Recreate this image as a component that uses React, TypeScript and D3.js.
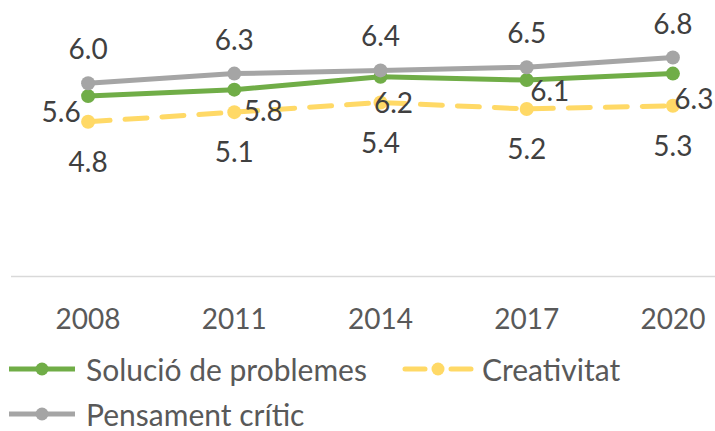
import React from 'react';
import * as d3 from 'd3';

// --- Data ---
const years = ['2008', '2011', '2014', '2017', '2020'];
const solucio = [5.6, 5.8, 6.2, 6.1, 6.3];
const creativitat = [4.8, 5.1, 5.4, 5.2, 5.3];
const pensament = [6.0, 6.3, 6.4, 6.5, 6.8];

// hand-placed label offsets for the green series (as in the original chart)
const solucioLabelOffsets: [number, number][] = [[-27, 15], [29, 20], [13, 25], [23, 10], [21, 24]];

const W = 715;
const H = 431;
const FONT = 'Lato, "Open Sans", sans-serif';
const LABEL_COLOR = '#404040';
const AXIS_COLOR = '#595959';

const series = [
    { name: 'Solució de problemes', values: solucio, color: '#70AD47', dash: null },
    { name: 'Creativitat', values: creativitat, color: '#FFD966', dash: '22,15' },
    { name: 'Pensament crític', values: pensament, color: '#A5A5A5', dash: null },
];

const x = d3.scaleBand<string>().domain(years).range([15, 746]).padding(0);
const cx = (yr: string) => (x(yr) as number) + x.bandwidth() / 2;
const y = d3.scaleLinear().domain([0, 8]).range([276, 19]);

const line = d3.line<number>()
    .x((_, i) => cx(years[i]))
    .y(d => y(d));

const labelPos = (sName: string, i: number, v: number): [number, number] => {
    const px = cx(years[i]);
    const py = y(v);
    if (sName === 'Pensament crític') return [px, py - 35];
    if (sName === 'Creativitat') return [px, py + 39];
    const [dx, dy] = solucioLabelOffsets[i];
    return [px + dx, py + dy];
};

const legendItems = [
    { s: series[0], lx: 9, ly: 369 },
    { s: series[1], lx: 405, ly: 369 },
    { s: series[2], lx: 9, ly: 414 },
];

export default function App() {
    const baseline = y(0);
    return (
        <svg width={W} height={H} style={{ position: 'absolute', left: 0, top: 0, background: '#fff' }}>
            <line x1={11} x2={W} y1={baseline + 0.5} y2={baseline + 0.5} stroke="#D9D9D9" strokeWidth={1.5} />

            {years.map(yr => (
                <text key={yr} x={cx(yr)} y={318} textAnchor="middle" dominantBaseline="central"
                    fontFamily={FONT} fontSize={28} fill={AXIS_COLOR}>{yr}</text>
            ))}

            {series.map(s => (
                <g key={s.name}>
                    <path d={line(s.values) || ''} fill="none" stroke={s.color} strokeWidth={5}
                        strokeDasharray={s.dash || undefined} strokeLinecap={s.dash ? 'round' : 'butt'} strokeLinejoin="round" />
                    {s.values.map((v, i) => (
                        <circle key={i} cx={cx(years[i])} cy={y(v)} r={7} fill={s.color} />
                    ))}
                </g>
            ))}

            {series.map(s => s.values.map((v, i) => {
                const [lx, ly] = labelPos(s.name, i, v);
                return (
                    <text key={s.name + i} x={lx} y={ly} textAnchor="middle" dominantBaseline="central"
                        fontFamily={FONT} fontSize={28} fill={LABEL_COLOR}>{v.toFixed(1)}</text>
                );
            }))}

            {legendItems.map(({ s, lx, ly }) => (
                <g key={s.name}>
                    <line x1={lx} x2={lx + 66} y1={ly} y2={ly} stroke={s.color} strokeWidth={5}
                        strokeDasharray={s.dash ? '20,26' : undefined} strokeLinecap={s.dash ? 'round' : 'butt'} />
                    <circle cx={lx + 33} cy={ly} r={6.5} fill={s.color} />
                    <text x={lx + 77} y={ly} dominantBaseline="central" fontFamily={FONT} fontSize={30}
                        fill={AXIS_COLOR}>{s.name}</text>
                </g>
            ))}
        </svg>
    );
}
